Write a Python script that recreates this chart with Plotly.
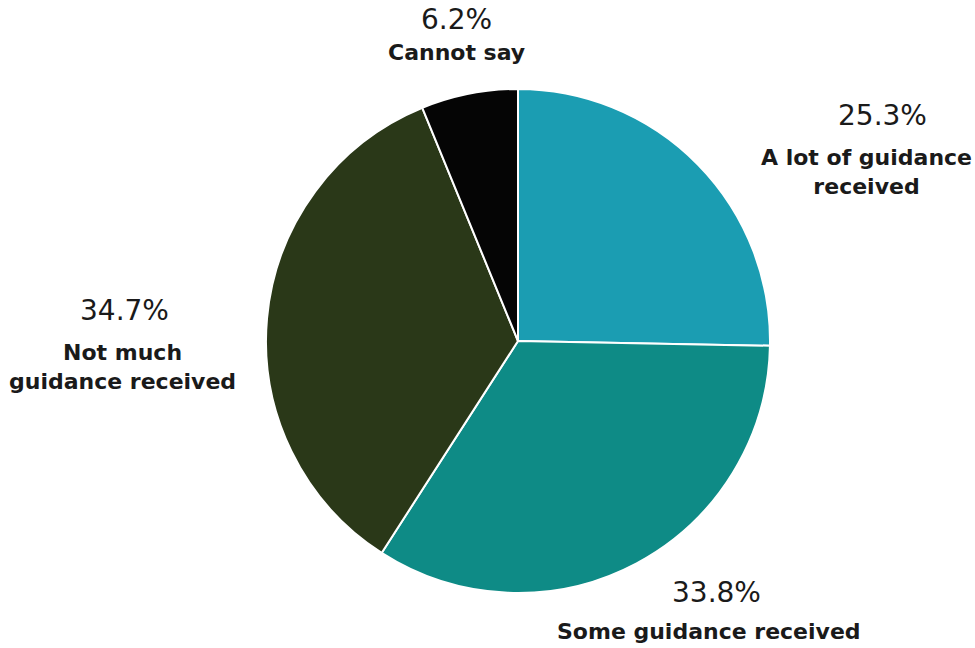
import plotly.graph_objects as go

categories = ["A lot of guidance received", "Some guidance received",
              "Not much guidance received", "Cannot say"]
values = [25.3, 33.8, 34.7, 6.2]
label_lines = ["A lot of guidance<br>received", "Some guidance received",
               "Not much<br>guidance received", "Cannot say"]
colors = ["#1B9DB2", "#0E8B86", "#2A3818", "#050505"]

W, H = 975, 648
cx, cy, r = 518, 341, 252

fig = go.Figure(go.Pie(
    labels=categories, values=values, sort=False, direction="clockwise",
    rotation=0, marker=dict(colors=colors, line=dict(color="white", width=2)),
    textinfo="none", hoverinfo="label+percent", showlegend=False,
    domain=dict(x=[(cx - r) / W, (cx + r) / W], y=[1 - (cy + r) / H, 1 - (cy - r) / H]),
))

# label anchor positions (pixels): percent centre, category label centre
pos = [((882, 115), (866, 172)), ((716, 592), (709, 631)),
       ((125, 310), (123, 367)), ((456, 19), (456, 52))]

font_pct = dict(family="DejaVu Sans, sans-serif", size=28, color="#1a1a1a")
font_lab = dict(family="DejaVu Sans, sans-serif", size=22, color="#1a1a1a", weight="bold")
anns = []
for v, lab, (pp, lp) in zip(values, label_lines, pos):
    anns.append(dict(text=f"{v:.1f}%", x=pp[0] / W, y=1 - pp[1] / H, xref="paper", yref="paper",
                     showarrow=False, font=font_pct, xanchor="center", yanchor="middle"))
    anns.append(dict(text=lab, x=lp[0] / W, y=1 - lp[1] / H, xref="paper", yref="paper",
                     showarrow=False, font=font_lab, xanchor="center", yanchor="middle",
                     align="center"))

fig.update_layout(width=W, height=H, margin=dict(l=0, r=0, t=0, b=0),
                  paper_bgcolor="white", plot_bgcolor="white", annotations=anns)
fig.write_html("out.html", config={"displayModeBar": False},
               post_script="document.body.style.margin='0px';")
